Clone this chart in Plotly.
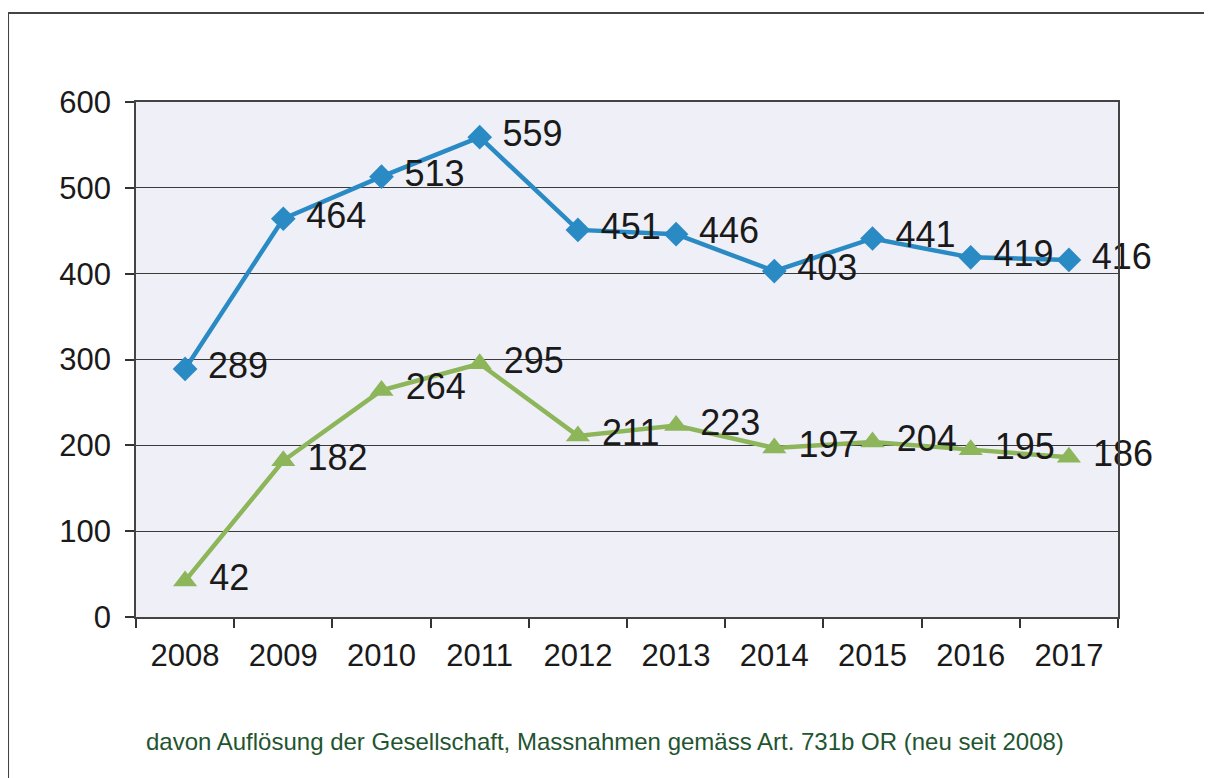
import plotly.graph_objects as go

years = ['2008', '2009', '2010', '2011', '2012', '2013', '2014', '2015', '2016', '2017']
total = [289, 464, 513, 559, 451, 446, 403, 441, 419, 416]
dissolution = [42, 182, 264, 295, 211, 223, 197, 204, 195, 186]

blue = '#2a8ac4'
green = '#8db55a'
font_family = 'Liberation Sans, Arial, sans-serif'

fig = go.Figure()

fig.add_trace(go.Scatter(
    x=years, y=total,
    mode='lines+markers+text',
    line=dict(color=blue, width=4.5),
    marker=dict(symbol='diamond', size=19, color=blue),
    texttemplate=' %{y}',
    textposition='middle right',
    textfont=dict(size=36, color='#1a1a1a', family=font_family),
    cliponaxis=False,
))

fig.add_trace(go.Scatter(
    x=years, y=dissolution,
    mode='lines+markers+text',
    line=dict(color=green, width=4.5),
    marker=dict(symbol='triangle-up', size=21, color=green),
    texttemplate=' %{y}',
    textposition='middle right',
    textfont=dict(size=36, color='#1a1a1a', family=font_family),
    cliponaxis=False,
))

# the page body adds an 8px margin, so the figure is 8px smaller each way
fig.update_layout(
    width=1204, height=770,
    margin=dict(l=128, r=94, t=94, b=161),
    paper_bgcolor='white',
    plot_bgcolor='#efeff8',
    showlegend=False,
    font=dict(family=font_family, color='#1a1a1a'),
)

fig.update_xaxes(
    type='category',
    range=[-0.5, len(years) - 0.5],
    tickson='boundaries',
    ticks='outside', ticklen=9, tickcolor='#333', tickwidth=1.5,
    ticklabelstandoff=10,
    showgrid=False,
    showline=True, linecolor='#444', linewidth=1.5, mirror=True,
    tickfont=dict(size=31, color='#1a1a1a'),
)

fig.update_yaxes(
    range=[0, 600],
    tickvals=[0, 100, 200, 300, 400, 500, 600],
    ticks='outside', ticklen=9, tickcolor='#333', tickwidth=1.5,
    ticklabelstandoff=8,
    showgrid=True, gridcolor='#3a3a3a', gridwidth=1,
    showline=True, linecolor='#444', linewidth=1.5, mirror=True,
    zeroline=False,
    tickfont=dict(size=31, color='#1a1a1a'),
)

# outer frame of the scanned chart (left and top edges visible)
fig.add_shape(type='line', xref='paper', yref='paper',
              x0=-0.1303, x1=-0.1303, y0=1.1728, y1=-0.35,
              line=dict(color='#444', width=2))
fig.add_shape(type='line', xref='paper', yref='paper',
              x0=-0.1303, x1=1.15, y0=1.1728, y1=1.1728,
              line=dict(color='#444', width=2))

fig.add_annotation(
    text='davon Auflösung der Gesellschaft, Massnahmen gemäss Art. 731b OR (neu seit 2008)',
    xref='paper', yref='paper', x=0.4776, y=-0.2427,
    showarrow=False, xanchor='center', yanchor='middle',
    font=dict(size=24, color='#1f5530', family=font_family),
)

fig.write_html('out.html')
